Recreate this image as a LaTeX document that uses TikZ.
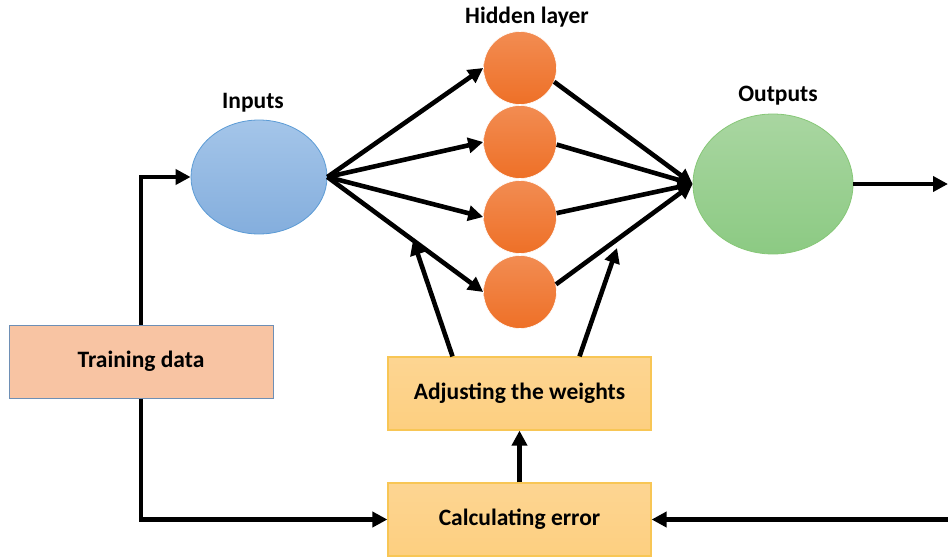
\documentclass[tikz,border=0pt]{standalone}
\usepackage{fontspec}
\setmainfont{Carlito}
\usetikzlibrary{shapes.geometric,arrows.meta,calc}
\definecolor{inTop}{HTML}{A4C5E9}
\definecolor{inBot}{HTML}{84AEDD}
\definecolor{inLine}{HTML}{5B9BD5}
\definecolor{hTop}{HTML}{F28C52}
\definecolor{hBot}{HTML}{EE7027}
\definecolor{outTop}{HTML}{A9D6A1}
\definecolor{outBot}{HTML}{8CCA83}
\definecolor{outLine}{HTML}{86C777}
\definecolor{trFill}{HTML}{F8C4A3}
\definecolor{trLine}{HTML}{6E8FB5}
\definecolor{gTop}{HTML}{FDD592}
\definecolor{gBot}{HTML}{FDCF80}
\definecolor{gLine}{HTML}{F8C655}
\tikzset{
  lbl/.style={font=\fontsize{23.5}{25}\selectfont\bfseries, text=black, inner sep=0},
  box/.style={rectangle, draw=gLine, line width=1.2pt, top color=gTop, bottom color=gBot,
              minimum width=263, minimum height=73, inner sep=0,
              font=\fontsize{23.5}{25}\selectfont\bfseries},
  conn/.style={line width=4.6pt, -{Triangle[length=15pt,width=15pt]}},
  hid/.style={circle, minimum size=73, inner sep=0, top color=hTop, bottom color=hBot, draw=white, line width=0.6pt}
}
\begin{document}
\begin{tikzpicture}[x=1pt,y=-1pt]
\useasboundingbox (0,0) rectangle (948,557);
% nodes
\node[ellipse, minimum width=136, minimum height=114, inner sep=0, draw=inLine, line width=0.8pt,
      top color=inTop, bottom color=inBot] (in) at (259,177) {};
\node[lbl] (inl) at (253,103) {Inputs};
\node[hid] (h1) at (520,68) {};
\node[hid] (h2) at (520,142) {};
\node[hid] (h3) at (520,217) {};
\node[hid] (h4) at (520,292) {};
\node[lbl] (hl) at (527,17) {Hidden layer};
\node[ellipse, minimum width=160, minimum height=140, inner sep=0, draw=outLine, line width=0.8pt,
      top color=outTop, bottom color=outBot] (out) at (773,184) {};
\node[lbl] (outl) at (778,96) {Outputs};
\node[rectangle, draw=trLine, line width=1pt, fill=trFill, minimum width=264, minimum height=73,
      inner sep=0, font=\fontsize{23.5}{25}\selectfont\bfseries] (tr) at (141,361.5) {Training data};
\node[box] (adj) at (519.5,393.5) {Adjusting the weights};
\node[box] (calc) at (519.5,519.5) {Calculating error};
\coordinate (oe) at (948,184);
\coordinate (ce) at (948,519.5);
\coordinate (a1) at (413,240);
\coordinate (a2) at (617,248);
\coordinate (tu) at (141,177);
\coordinate (td) at (141,519.5);
% connectors
\foreach \h in {h1,h2,h3,h4}{\draw[conn] (in.east) -- (\h.west);}
\draw[conn] (h1.-22) -- (out.west);
\draw[conn] (h2.-4) -- (out.west);
\draw[conn] (h3.6) -- (out.west);
\draw[conn] (h4.12) -- (out.west);
\draw[conn] (out.east) -- (oe);
\draw[conn] (tr.north) -- (tu) -- (in.west);
\draw[conn] (tr.south) -- (td) -- (calc.west);
\draw[conn] (ce) -- (calc.east);
\draw[conn] (calc.north) -- (adj.south);
\draw[conn] ($(adj.north)+(-67,0)$) -- (a1);
\draw[conn] ($(adj.north)+(60,0)$) -- (a2);
\end{tikzpicture}
\end{document}
